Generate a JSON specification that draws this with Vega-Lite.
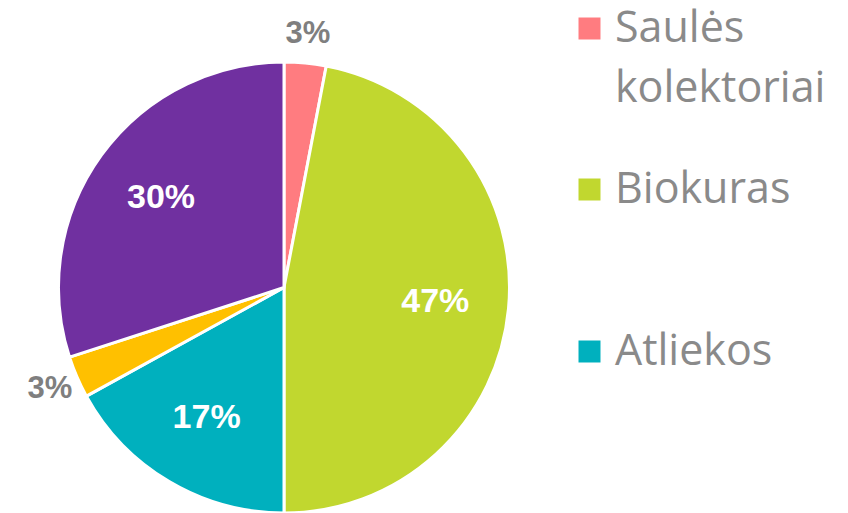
{
  "$schema": "https://vega.github.io/schema/vega-lite/v6.json",
  "width": 452,
  "height": 451,
  "autosize": {"type": "none"},
  "padding": {"left": 58, "top": 62, "right": 338, "bottom": 0},
  "background": "white",
  "config": {"view": {"stroke": null}, "style": {"guide-label": {"lineHeight": 60}}},
  "data": {
    "values": [
      {"source": "Saulės kolektoriai", "share": 0.03, "rank": 1},
      {"source": "Biokuras", "share": 0.47, "rank": 2},
      {"source": "Atliekos", "share": 0.17, "rank": 3},
      {"source": "Šilumos siurbliai", "share": 0.03, "rank": 4},
      {"source": "Gamtinės dujos", "share": 0.30, "rank": 5}
    ]
  },
  "encoding": {
    "theta": {"field": "share", "type": "quantitative", "stack": true},
    "order": {"field": "rank", "type": "quantitative"}
  },
  "layer": [
    {
      "mark": {"type": "arc", "stroke": "white", "strokeWidth": 3},
      "encoding": {
        "color": {
          "field": "source",
          "type": "nominal",
          "scale": {
            "domain": ["Saulės kolektoriai", "Biokuras", "Atliekos", "Šilumos siurbliai", "Gamtinės dujos"],
            "range": ["#FF7C80", "#C1D72F", "#00B0BE", "#FFC000", "#7030A0"]
          },
          "legend": {
            "orient": "none",
            "legendX": 510,
            "legendY": -55,
            "values": ["Saulės kolektoriai"],
            "title": null,
            "symbolType": "square",
            "symbolSize": 484,
            "symbolStrokeWidth": 0,
            "labelFontSize": 43,
            "labelFont": "Open Sans",
            "labelColor": "#8a8a8a",
            "labelOffset": 4,
            "labelLimit": 400,
            "labelExpr": "['Saulės', 'kolektoriai']"
          }
        }
      }
    },
    {
      "mark": {"type": "arc", "stroke": "white", "strokeWidth": 3},
      "encoding": {
        "fill": {
          "field": "source",
          "type": "nominal",
          "scale": {
            "domain": ["Biokuras", "Atliekos", "Saulės kolektoriai", "Šilumos siurbliai", "Gamtinės dujos"],
            "range": ["#C1D72F", "#00B0BE", "#FF7C80", "#FFC000", "#7030A0"]
          },
          "legend": {
            "orient": "none",
            "legendX": 510,
            "legendY": 106,
            "values": ["Biokuras", "Atliekos"],
            "title": null,
            "symbolType": "square",
            "symbolSize": 484,
            "symbolStrokeWidth": 0,
            "labelFontSize": 43,
            "labelFont": "Open Sans",
            "labelColor": "#8a8a8a",
            "labelOffset": 4,
            "labelLimit": 400,
            "rowPadding": 118
          }
        }
      }
    },
    {
      "mark": {"type": "text", "radius": 152, "fontSize": 34, "fontWeight": "bold", "font": "Liberation Sans", "fill": "white"},
      "encoding": {
        "text": {"field": "share", "type": "quantitative", "format": ".0%"},
        "opacity": {"condition": {"test": "datum.share < 0.05", "value": 0}, "value": 1}
      }
    },
    {
      "mark": {"type": "text", "radius": 255, "fontSize": 31, "fontWeight": "bold", "font": "Liberation Sans", "fill": "#7f7f7f"},
      "encoding": {
        "text": {"field": "share", "type": "quantitative", "format": ".0%"},
        "opacity": {"condition": {"test": "datum.share < 0.05", "value": 1}, "value": 0}
      }
    }
  ]
}
